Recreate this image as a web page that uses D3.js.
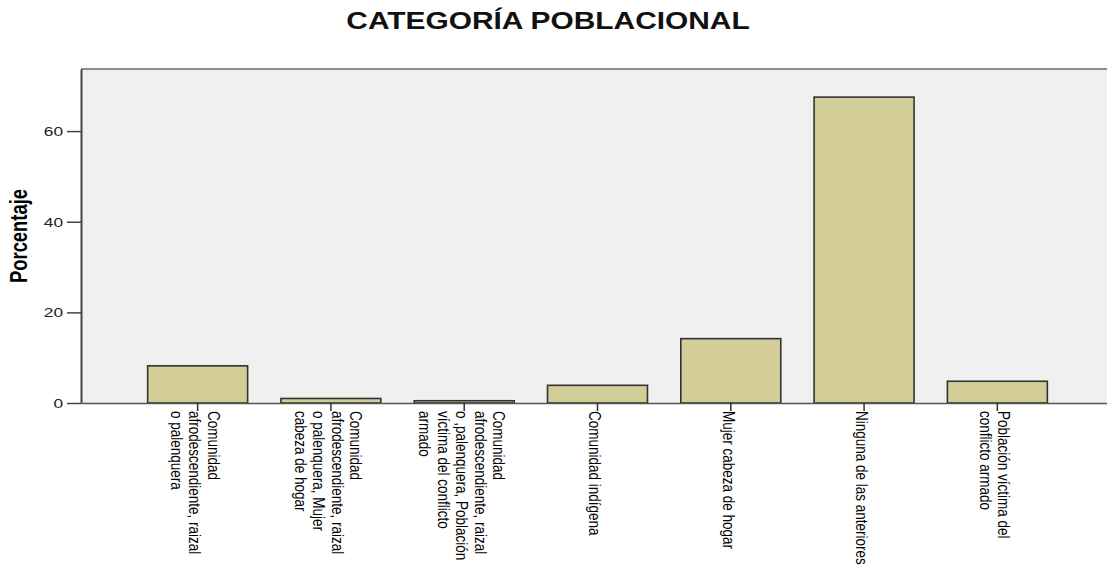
<!DOCTYPE html>
<html>
<head>
<meta charset="utf-8">
<script src="https://cdn.jsdelivr.net/npm/d3@7"></script>
<style>
  body { margin: 0; background: #fff; }
  text { font-family: "Liberation Sans", Arial, sans-serif; fill: #000; }
</style>
</head>
<body>
<div id="chart"></div>
<script>
// values (percent)
const categories = [
  "Comunidad afrodescendiente, raizal o palenquera",
  "Comunidad afrodescendiente, raizal o palenquera, Mujer cabeza de hogar",
  "Comunidad afrodescendiente, raizal o ,palenquera, Población víctima del conflicto armado",
  "Comunidad indígena",
  "Mujer cabeza de hogar",
  "Ninguna de las anteriores",
  "Población víctima del conflicto armado"
];
// how each category label wraps under its tick
const categoryLines = [
  ["Comunidad", "afrodescendiente, raizal", "o palenquera"],
  ["Comunidad", "afrodescendiente, raizal", "o palenquera, Mujer", "cabeza de hogar"],
  ["Comunidad", "afrodescendiente, raizal", "o ,palenquera, Población", "víctima del conflicto", "armado"],
  ["Comunidad indígena"],
  ["Mujer cabeza de hogar"],
  ["Ninguna de las anteriores"],
  ["Población víctima del", "conflicto armado"]
];
const percentages = [8.2, 1.0, 0.5, 3.9, 14.2, 67.5, 4.8];
const yTicks = [0, 20, 40, 60];

const title = "CATEGORÍA POBLACIONAL";
const yLabel = "Porcentaje";

const width = 1107, height = 566;
const plot = { left: 81, top: 69, right: 1114, bottom: 403 };
const stretch = 1.28; // the original is stretched sideways, text included
const labelSize = 13.5;
const lineGap = 18.5 / stretch;

const svg = d3.select("#chart").append("svg")
  .attr("width", width)
  .attr("height", height);

const x = d3.scaleBand()
  .domain(categories)
  .range([plot.left, plot.right])
  .paddingInner(0.25)
  .paddingOuter(0.5);

const y = d3.scaleLinear()
  .domain([0, 73.7])
  .range([plot.bottom, plot.top]);

// plot background + top frame
svg.append("rect")
  .attr("x", plot.left)
  .attr("y", plot.top)
  .attr("width", plot.right - plot.left)
  .attr("height", plot.bottom - plot.top)
  .attr("fill", "#f0f0f0");

svg.append("line")
  .attr("x1", plot.left).attr("x2", plot.right)
  .attr("y1", plot.top).attr("y2", plot.top)
  .attr("stroke", "#8a8a8a")
  .attr("stroke-width", 2);

// bars
svg.selectAll(".bar")
  .data(percentages)
  .enter().append("rect")
  .attr("class", "bar")
  .attr("x", (d, i) => x(categories[i]))
  .attr("y", d => y(d))
  .attr("width", x.bandwidth())
  .attr("height", d => y(0) - y(d))
  .attr("fill", "#d3ce97")
  .attr("stroke", "#333")
  .attr("stroke-width", 1.6);

// y axis
const yAxis = svg.append("g")
  .attr("transform", `translate(${plot.left},0)`)
  .call(d3.axisLeft(y).tickValues(yTicks).tickSize(14).tickSizeOuter(0).tickFormat(""));
yAxis.select(".domain").attr("stroke", "#444").attr("stroke-width", 2);
yAxis.selectAll(".tick line").attr("stroke", "#444").attr("stroke-width", 1.5);

svg.selectAll(".ytick")
  .data(yTicks)
  .enter().append("text")
  .attr("class", "ytick")
  .attr("transform", d => `translate(63,${y(d)}) scale(${stretch},1)`)
  .attr("text-anchor", "end")
  .attr("dy", "0.36em")
  .style("font-size", "13.5px")
  .style("fill", "#222")
  .text(d => d);

// x axis
const xAxis = svg.append("g")
  .attr("transform", `translate(0,${plot.bottom})`)
  .call(d3.axisBottom(x).tickSize(8).tickSizeOuter(0).tickFormat(""));
xAxis.select(".domain").attr("stroke", "#555").attr("stroke-width", 1.6);
xAxis.selectAll(".tick line").attr("stroke", "#333").attr("stroke-width", 1.5);

// rotated, wrapped category labels
const labels = svg.selectAll(".xlabel")
  .data(categories)
  .enter().append("g")
  .attr("class", "xlabel")
  .attr("transform", d => `translate(${x(d) + x.bandwidth() / 2},411) scale(${stretch},1) rotate(90)`);

labels.append("text")
  .style("font-size", labelSize + "px")
  .each(function(d, i) {
    const lines = categoryLines[i];
    const first = 2 / stretch + 0.358 * labelSize - (lines.length - 1) / 2 * lineGap;
    d3.select(this).selectAll("tspan")
      .data(lines)
      .enter().append("tspan")
      .attr("x", 0)
      .attr("y", (l, j) => first + j * lineGap)
      .text(l => l);
  });

// y axis title
svg.append("text")
  .attr("transform", `translate(27,${(plot.top + plot.bottom) / 2}) scale(${stretch},1) rotate(-90)`)
  .attr("text-anchor", "middle")
  .style("font-size", "18.4px")
  .style("font-weight", "bold")
  .text(yLabel);

// chart title
svg.append("text")
  .attr("transform", `translate(548,29) scale(1.3,1)`)
  .attr("text-anchor", "middle")
  .style("font-size", "23px")
  .style("font-weight", "bold")
  .style("fill", "#111")
  .text(title);
</script>
</body>
</html>
